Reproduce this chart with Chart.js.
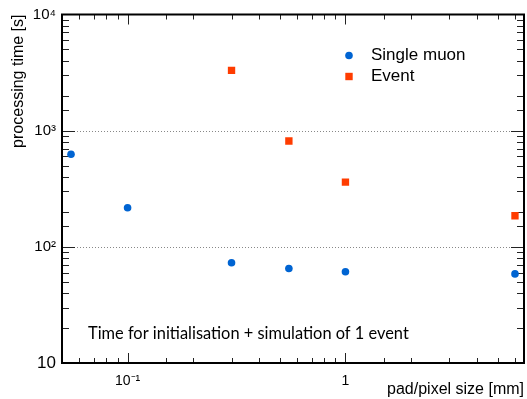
<!DOCTYPE html>
<html>
<head>
<meta charset="utf-8">
<script src="https://cdn.jsdelivr.net/npm/chart.js"></script>
<style>
  html, body { margin: 0; padding: 0; background: #fff; }
  canvas { display: block; }
</style>
</head>
<body>
<canvas id="myChart" width="527" height="399"></canvas>
<script>
const muonSizes = [0.055, 0.1, 0.3, 0.55, 1, 6];
const muonTimes = [627, 217, 73, 65, 61, 58.5];
const eventSizes = [0.3, 0.55, 1, 6];
const eventTimes = [3300, 815, 361, 185];
const xTickValues = [0.1, 1];
const xTickLabels = ["10\u207B\u00B9", "1"];
const yTickValues = [10, 100, 1000, 10000];
const yTickLabels = ["10", "10\u00B2", "10\u00B3", "10\u2074"];
const gridValues = [100, 1000];

const FONT = "'Liberation Sans', Arial, Helvetica, sans-serif";
const BLUE = "#0064d2";
const RED = "#ff3c00";

function labelFor(value, values, labels) {
  for (let i = 0; i < values.length; i++) {
    if (Math.abs(Math.log10(value) - Math.log10(values[i])) < 1e-6) return labels[i];
  }
  return "";
}

function isDecade(v) {
  const e = Math.log10(v);
  return Math.abs(e - Math.round(e)) < 1e-6;
}

// ROOT style frame: inward ticks on all sides and dotted lines at 10^2, 10^3
const frame = {
  id: "frame",
  beforeDatasetsDraw(chart) {
    const { ctx, chartArea: a, scales } = chart;
    ctx.save();
    ctx.lineWidth = 1;
    ctx.strokeStyle = "#888";
    ctx.setLineDash([1, 2]);
    gridValues.forEach(v => {
      const y = Math.round(scales.y.getPixelForValue(v)) + 0.5;
      ctx.beginPath();
      ctx.moveTo(a.left, y);
      ctx.lineTo(a.right, y);
      ctx.stroke();
    });
    ctx.setLineDash([]);
    ctx.strokeStyle = "#222";
    scales.y.ticks.forEach(t => {
      if (t.value <= scales.y.min || t.value >= scales.y.max) return;
      const y = Math.round(scales.y.getPixelForValue(t.value)) + 0.5;
      const len = isDecade(t.value) ? 13 : 7;
      ctx.beginPath();
      ctx.moveTo(a.left, y);
      ctx.lineTo(a.left + len, y);
      ctx.moveTo(a.right, y);
      ctx.lineTo(a.right - len, y);
      ctx.stroke();
    });
    scales.x.ticks.forEach(t => {
      if (t.value <= scales.x.min || t.value >= scales.x.max) return;
      const x = Math.round(scales.x.getPixelForValue(t.value)) + 0.5;
      const len = isDecade(t.value) ? 10 : 5;
      ctx.beginPath();
      ctx.moveTo(x, a.bottom);
      ctx.lineTo(x, a.bottom - len);
      ctx.moveTo(x, a.top);
      ctx.lineTo(x, a.top + len);
      ctx.stroke();
    });
    ctx.strokeStyle = "#000";
    ctx.lineWidth = 2;
    ctx.strokeRect(a.left, a.top, a.right - a.left, a.bottom - a.top);
    ctx.restore();
  },
  afterDraw(chart) {
    const { ctx, chartArea: a } = chart;
    ctx.save();
    // legend
    const lx = 349, ly = 55.5, step = 21;
    ctx.fillStyle = BLUE;
    ctx.beginPath();
    ctx.arc(lx, ly, 3.8, 0, Math.PI * 2);
    ctx.fill();
    ctx.fillStyle = RED;
    ctx.fillRect(lx - 3.7, ly + step - 3.7, 7.4, 7.4);
    ctx.fillStyle = "#000";
    ctx.font = "17px " + FONT;
    ctx.textBaseline = "middle";
    ctx.fillText("Single muon", 371, ly);
    ctx.fillText("Event", 371, ly + step);
    // note
    ctx.font = "16.4px Lato, 'DejaVu Sans', sans-serif";
    ctx.textBaseline = "alphabetic";
    ctx.fillText("Time for initialisation + simulation of 1 event", 88, a.bottom - 24);
    ctx.restore();
  }
};

new Chart(document.getElementById("myChart"), {
  type: "scatter",
  data: {
    datasets: [
      {
        label: "Single muon",
        data: muonSizes.map((x, i) => ({ x: x, y: muonTimes[i] })),
        backgroundColor: BLUE,
        pointStyle: "circle",
        pointRadius: 3.8,
        pointBorderWidth: 0,
      },
      {
        label: "Event",
        data: eventSizes.map((x, i) => ({ x: x, y: eventTimes[i] })),
        backgroundColor: RED,
        pointStyle: "rect",
        pointRadius: 5.2,
        pointBorderWidth: 0,
      },
    ],
  },
  options: {
    responsive: false,
    animation: false,
    layout: { autoPadding: false, padding: { top: 14.5, right: 3, left: 0, bottom: 0 } },
    plugins: {
      legend: { display: false },
      tooltip: { enabled: false },
    },
    scales: {
      x: {
        type: "logarithmic",
        min: 0.05,
        max: 6.6,
        grid: { display: false, drawTicks: false },
        border: { display: false },
        afterFit: scale => {
          scale.height = 36;
          scale.paddingLeft = 0;
          scale.paddingRight = 0;
        },
        ticks: {
          autoSkip: false,
          maxRotation: 0,
          padding: 10,
          color: "#000",
          font: { family: FONT, size: 14 },
          callback: v => labelFor(v, xTickValues, xTickLabels),
        },
        title: {
          display: true,
          text: "pad/pixel size [mm]",
          align: "end",
          color: "#000",
          font: { family: FONT, size: 16 },
          padding: { top: 0, bottom: 0 },
        },
      },
      y: {
        type: "logarithmic",
        min: 10,
        max: 10000,
        grid: { display: false, drawTicks: false },
        border: { display: false },
        afterFit: scale => {
          scale.width = 62;
          scale.paddingTop = 0;
          scale.paddingBottom = 0;
        },
        ticks: {
          autoSkip: false,
          padding: 6,
          color: "#000",
          font: ctx => ({ family: FONT, size: ctx.tick && ctx.tick.value === 10 ? 17 : 15 }),
          callback: v => labelFor(v, yTickValues, yTickLabels),
        },
        title: {
          display: true,
          text: "processing time [s]",
          align: "end",
          color: "#000",
          font: { family: FONT, size: 16 },
          padding: { top: 9, bottom: 0 },
        },
      },
    },
  },
  plugins: [frame],
});
</script>
</body>
</html>
